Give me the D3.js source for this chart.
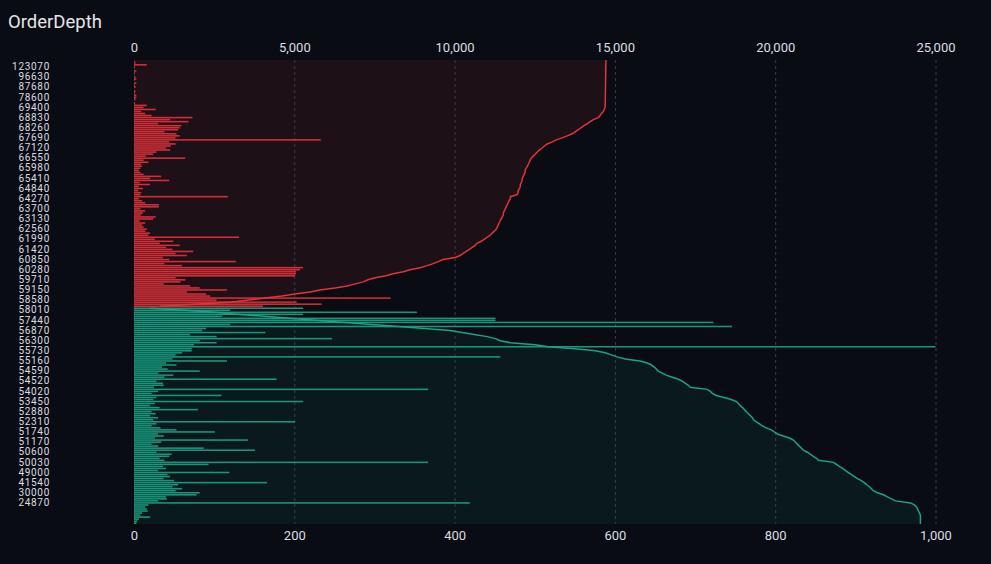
<!DOCTYPE html>
<html>
<head>
<meta charset="utf-8">
<script src="https://cdn.jsdelivr.net/npm/d3@7"></script>
<style>
  html, body { margin: 0; padding: 0; background: #090c12; }
  svg { display: block; }
  text { font-family: Roboto, "Noto Sans", sans-serif; }
</style>
</head>
<body>
<script>
// price labels shown on the left, one every few rows
const priceLabels = [
    "123070", "96630", "87680", "78600", "69400", "68830", "68260", "67690", "67120",
    "66550", "65980", "65410", "64840", "64270", "63700", "63130", "62560", "61990",
    "61420", "60850", "60280", "59710", "59150", "58580", "58010", "57440", "56870",
    "56300", "55730", "55160", "54590", "54520", "54020", "53450", "52880", "52310",
    "51740", "51170", "50600", "50030", "49000", "41540", "30000", "24870"
];

// ask rows, highest price first (size per row, bottom axis)
const askSize = [
    0, 2, 16, 1, 0, 3, 1, 0, 2, 3, 0, 3, 1, 2, 0, 2, 1, 3, 3, 2, 0, 1,
    16, 12, 27, 9, 14, 22, 73, 45, 68, 30, 59, 57, 55, 38, 53, 57, 52, 233,
    44, 52, 46, 40, 45, 28, 24, 15, 64, 12, 18, 9, 10, 8, 6, 8, 12, 34,
    20, 44, 7, 20, 6, 11, 5, 9, 8, 117, 6, 10, 14, 31, 31, 8, 14, 11,
    9, 27, 24, 7, 14, 10, 12, 16, 14, 20, 18, 131, 26, 49, 32, 57, 40, 48,
    74, 52, 66, 36, 44, 127, 38, 60, 211, 207, 202, 202, 201, 52, 64, 58,
    37, 70, 82, 116, 66, 90, 95, 320, 103, 203, 234, 161
];

// ask cumulative depth per row (top axis)
const askCum = [
    14720, 14720, 14718, 14716, 14716, 14714, 14714, 14712, 14712, 14710, 14710,
    14708, 14708, 14706, 14706, 14704, 14704, 14702, 14702, 14700, 14700, 14700,
    14698, 14690, 14670, 14640, 14580, 14540, 14480, 14330, 14230, 14140, 14040,
    13950, 13860, 13760, 13670, 13510, 13360, 13170, 13050, 12890, 12800, 12730,
    12640, 12580, 12520, 12450, 12390, 12360, 12330, 12300, 12270, 12230, 12200,
    12200, 12170, 12140, 12110, 12110, 12080, 12050, 12050, 12020, 11980, 11980,
    11950, 11740, 11740, 11700, 11670, 11640, 11610, 11580, 11550, 11520, 11520,
    11490, 11450, 11420, 11390, 11360, 11330, 11300, 11240, 11170, 11110, 11020,
    10920, 10830, 10700, 10640, 10550, 10460, 10360, 10270, 10170, 10020, 9640,
    9490, 9330, 9140, 8930, 8610, 8400, 8080, 7860, 7520, 7300, 7150, 6900, 6650,
    6270, 5800, 5490, 5020, 4620, 4090, 3560, 3000, 1900, 810
];

// bid rows, highest price first
const bidSize = [
    211, 120, 353, 211, 110, 451, 451, 723, 120, 746, 90, 85, 164, 70, 103, 247,
    82, 103, 75, 1000, 72, 72, 60, 52, 457, 48, 116, 40, 53, 35, 42, 82, 30, 49,
    38, 178, 28, 36, 37, 25, 367, 30, 22, 109, 28, 24, 211, 26, 20, 32, 80, 22,
    27, 20, 30, 24, 201, 28, 22, 33, 53, 101, 30, 37, 26, 142, 34, 22, 30, 87,
    151, 28, 47, 44, 32, 38, 367, 93, 36, 40, 30, 119, 42, 45, 37, 50, 166, 55,
    48, 60, 52, 82, 78, 40, 41, 30, 419, 18, 14, 16, 17, 10, 8, 20, 6, 4, 3
];

const bidCum = [
    500, 1590, 2530, 3210, 4090, 4870, 5740, 6590, 7430, 8240, 9080, 9860, 10240,
    10610, 11020, 11270, 11420, 11740, 12520, 12920, 13760, 14390, 14700, 14890,
    15070, 15320, 15790, 16010, 16140, 16230, 16290, 16350, 16480, 16600, 16790,
    16980, 17100, 17200, 17290, 17350, 17880, 17980, 18040, 18160, 18410, 18630,
    18790, 18850, 18910, 18980, 19040, 19100, 19160, 19230, 19290, 19320, 19410,
    19510, 19600, 19720, 19880, 19970, 20070, 20250, 20440, 20570, 20630, 20690,
    20750, 20820, 20880, 21000, 21100, 21190, 21290, 21350, 21820, 21910, 22000,
    22100, 22190, 22280, 22380, 22470, 22570, 22690, 22780, 22850, 22940, 23000,
    23060, 23190, 23380, 23500, 23630, 23750, 24220, 24340, 24410, 24440, 24470,
    24500, 24530, 24530, 24530, 24530, 24530
];

const sizeTicks = [0, 200, 400, 600, 800, 1000];
const depthTicks = [0, 5000, 10000, 15000, 20000, 25000];

const W = 991, H = 564;
const margin = { top: 60, right: 55.5, bottom: 40, left: 134 };
const width = W - margin.left - margin.right;
const height = H - margin.top - margin.bottom;

const red = "#e5323b";
const green = "#1aa386";
const textColor = "#dcdee2";

const asks = askSize.map((v, i) => ({ row: i, size: v, cum: askCum[i] }));
const bids = bidSize.map((v, i) => ({ row: asks.length + i, size: v, cum: bidCum[i] }));
const rows = d3.range(asks.length + bids.length);

const y = d3.scaleBand().domain(rows).range([0, height]).paddingInner(0.22);
const step = y.step();
const mid = r => y(r) + y.bandwidth() / 2;

const xSize = d3.scaleLinear().domain([0, 1000]).range([0, width]);
const xDepth = d3.scaleLinear().domain([0, 25000]).range([0, width]);

const svg = d3.select("body").append("svg")
    .attr("width", W)
    .attr("height", H);

svg.append("rect").attr("width", W).attr("height", H).attr("fill", "#090c12");

svg.append("text")
    .attr("x", 8)
    .attr("y", 28)
    .attr("fill", "#e4e6ea")
    .attr("font-size", 18.5)
    .text("OrderDepth");

const g = svg.append("g").attr("transform", `translate(${margin.left}, ${margin.top})`);

const splitY = asks.length * step;

// shaded depth areas
const askPts = [[askCum[0], 0]].concat(asks.map(d => [d.cum, mid(d.row)]), [[0, splitY]]);
const bidPts = [[0, splitY]].concat(bids.map(d => [d.cum, mid(d.row)]), [[bidCum[bidCum.length - 1], height]]);

const area = d3.area()
    .x0(0)
    .x1(d => xDepth(d[0]))
    .y(d => d[1]);

g.append("path").datum(askPts).attr("d", area).attr("fill", "#1d1117");
g.append("path").datum(bidPts).attr("d", area).attr("fill", "#0a1a1c");

// grid
g.selectAll(".grid")
    .data(sizeTicks)
    .join("line")
    .attr("class", "grid")
    .attr("x1", d => xSize(d) + 0.5)
    .attr("x2", d => xSize(d) + 0.5)
    .attr("y1", 0)
    .attr("y2", height)
    .attr("stroke", "#3b3f47")
    .attr("stroke-width", 1)
    .attr("stroke-dasharray", "3,3");

// bars
g.selectAll(".ask")
    .data(asks)
    .join("rect")
    .attr("class", "ask")
    .attr("x", 0)
    .attr("y", d => y(d.row))
    .attr("width", d => xSize(d.size))
    .attr("height", y.bandwidth())
    .attr("fill", red)
    .attr("opacity", 0.9);

g.selectAll(".bid")
    .data(bids)
    .join("rect")
    .attr("class", "bid")
    .attr("x", 0)
    .attr("y", d => y(d.row))
    .attr("width", d => xSize(d.size))
    .attr("height", y.bandwidth())
    .attr("fill", green)
    .attr("opacity", 0.9);

// cumulative lines
const line = d3.line()
    .x(d => xDepth(d[0]))
    .y(d => d[1]);

g.append("path").datum(askPts.slice(0, -1))
    .attr("d", line)
    .attr("fill", "none")
    .attr("stroke", red)
    .attr("stroke-width", 1.5);

g.append("path").datum(bidPts.slice(1))
    .attr("d", line)
    .attr("fill", "none")
    .attr("stroke", green)
    .attr("stroke-width", 1.5);

// axes
const topAxis = d3.axisTop(xDepth).tickValues(depthTicks).tickFormat(d3.format(",")).tickSize(0).tickPadding(8);
const bottomAxis = d3.axisBottom(xSize).tickValues(sizeTicks).tickFormat(d3.format(",")).tickSize(0).tickPadding(7);

g.append("g").call(topAxis)
    .call(a => a.select(".domain").remove())
    .selectAll("text").attr("fill", textColor).attr("font-size", 13);

g.append("g").attr("transform", `translate(0, ${height})`).call(bottomAxis)
    .call(a => a.select(".domain").remove())
    .selectAll("text").attr("fill", textColor).attr("font-size", 13);

const labelRows = priceLabels.map((p, i) => 3 + i * 5);
const leftAxis = d3.axisLeft(y)
    .tickValues(labelRows)
    .tickFormat(r => priceLabels[(r - 3) / 5])
    .tickSize(0)
    .tickPadding(0);

g.append("g").attr("transform", `translate(${50 - margin.left}, 0)`).call(leftAxis)
    .call(a => a.select(".domain").remove())
    .selectAll("text")
    .attr("fill", textColor)
    .attr("font-size", 10)
    .attr("letter-spacing", 0.7);
</script>
</body>
</html>
